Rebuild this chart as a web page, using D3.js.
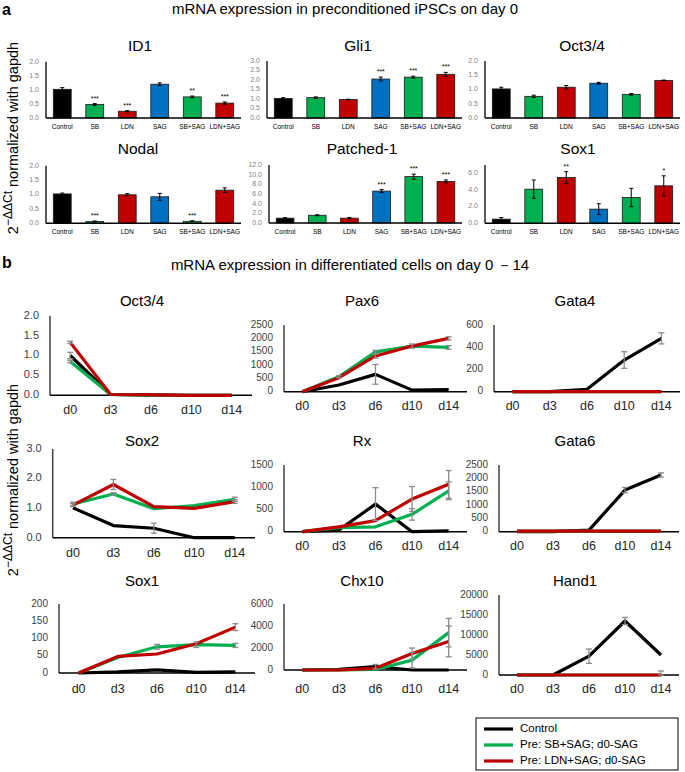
<!DOCTYPE html>
<html><head><meta charset="utf-8">
<script src="https://cdn.jsdelivr.net/npm/d3@7"></script>
<style>body{margin:0;background:#fff;} svg{display:block;font-family:"Liberation Sans",Arial,sans-serif;}</style>
</head><body><svg id="c" width="685" height="772"></svg>
<script>
// ---------- DATA: panel a (bar charts) ----------
const barCategories = ["Control","SB","LDN","SAG","SB+SAG","LDN+SAG"];
const barGroups = ["ctrl","green","red","blue","green","red"];

const id1Values = [1.02,0.48,0.24,1.20,0.75,0.53];
const id1Errors = [0.06,0.03,0.02,0.05,0.03,0.04];
const id1Stars  = ["","***","***","","**","***"];
const id1Ticks  = [0,0.5,1.0,1.5,2.0];

const gli1Values = [1.03,1.07,0.97,2.05,2.15,2.30];
const gli1Errors = [0.04,0.04,0.02,0.10,0.05,0.10];
const gli1Stars  = ["","","","***","***","***"];
const gli1Ticks  = [0,0.5,1.0,1.5,2.0,2.5,3.0];

const oct34aValues = [1.02,0.76,1.08,1.22,0.83,1.32];
const oct34aErrors = [0.06,0.04,0.06,0.03,0.03,0.01];
const oct34aStars  = ["","","","","",""];
const oct34aTicks  = [0,0.5,1.0,1.5,2.0];

const nodalValues = [1.02,0.06,0.99,0.92,0.07,1.15];
const nodalErrors = [0.03,0.02,0.04,0.12,0.02,0.08];
const nodalStars  = ["","***","","","***",""];
const nodalTicks  = [0,0.5,1.0,1.5,2.0];

const ptchValues = [1.0,1.6,1.0,6.6,9.6,8.6];
const ptchErrors = [0.1,0.1,0.15,0.3,0.5,0.3];
const ptchStars  = ["","","","***","***","***"];
const ptchTicks  = [0,2,4,6,8,10,12];

const sox1aValues = [0.5,4.1,5.5,1.7,3.1,4.5];
const sox1aErrors = [0.2,1.1,0.7,0.65,1.1,1.2];
const sox1aStars  = ["","","**","","","*"];
const sox1aTicks  = [0,2,4,6];

// ---------- DATA: panel b (line charts) ----------
const days = ["d0","d3","d6","d10","d14"];
const seriesNames = ["Control","Pre: SB+SAG; d0-SAG","Pre: LDN+SAG; d0-SAG"];

const oct34bCtrl  = [1.00,0.02,0.01,0.00,0.00], oct34bCtrlErr  = [0.08,0,0,0,0];
const oct34bGreen = [0.85,0.02,0.00,0.00,0.00], oct34bGreenErr = [0.03,0,0,0,0];
const oct34bRed   = [1.33,0.02,0.01,0.00,0.00], oct34bRedErr   = [0.03,0,0,0,0];
const oct34bTicks = [0,0.5,1.0,1.5,2.0];

const pax6Ctrl  = [0,250,650,60,80],        pax6CtrlErr  = [0,0,370,0,0];
const pax6Green = [0,560,1490,1710,1660],   pax6GreenErr = [0,40,60,80,70];
const pax6Red   = [0,525,1340,1710,2000],   pax6RedErr   = [0,0,80,0,60];
const pax6Ticks = [0,500,1000,1500,2000,2500];

const gata4Ctrl  = [0,0,21,285,480], gata4CtrlErr  = [0,0,0,75,50];
const gata4Green = [0,0,0,0,0],      gata4GreenErr = [0,0,0,0,0];
const gata4Red   = [0,0,0,0,0],      gata4RedErr   = [0,0,0,0,0];
const gata4Ticks = [0,200,400,600];

const sox2Ctrl  = [1.01,0.41,0.32,0,0],      sox2CtrlErr  = [0,0,0.17,0,0];
const sox2Green = [1.14,1.48,0.98,1.09,1.30], sox2GreenErr = [0.06,0.04,0,0,0.07];
const sox2Red   = [1.10,1.80,1.05,0.99,1.22], sox2RedErr   = [0.05,0.17,0,0,0.06];
const sox2Ticks = [0,1.0,2.0,3.0];

const rxCtrl  = [0,37,620,0,20],      rxCtrlErr  = [0,0,370,0,0];
const rxGreen = [0,90,110,390,920],   rxGreenErr = [0,0,0,130,200];
const rxRed   = [0,110,250,735,1065], rxRedErr   = [0,0,0,280,310];
const rxTicks = [0,500,1000,1500];

const gata6Ctrl  = [0,0,60,1560,2125], gata6CtrlErr  = [0,0,0,100,80];
const gata6Green = [20,20,20,20,20],   gata6GreenErr = [0,0,0,0,0];
const gata6Red   = [20,20,20,20,20],   gata6RedErr   = [0,0,0,0,0];
const gata6Ticks = [0,500,1000,1500,2000,2500];

const sox1bCtrl  = [0,3,9,2,3],     sox1bCtrlErr  = [0,0,0,0,0];
const sox1bGreen = [0,45,76,82,80], sox1bGreenErr = [0,0,7,8,6];
const sox1bRed   = [0,48,55,85,133],sox1bRedErr   = [0,0,0,0,10];
const sox1bTicks = [0,50,100,150,200];

const chx10Ctrl  = [0,50,300,0,0],       chx10CtrlErr  = [0,0,200,0,0];
const chx10Green = [0,0,50,900,3400],    chx10GreenErr = [0,0,0,700,1300];
const chx10Red   = [0,0,150,1500,2600],  chx10RedErr   = [0,0,0,500,1400];
const chx10Ticks = [0,2000,4000,6000];

const hand1Ctrl  = [0,0,4700,13500,5000], hand1CtrlErr  = [0,0,1800,900,0];
const hand1Green = [0,0,0,0,0],           hand1GreenErr = [0,0,0,0,0];
const hand1Red   = [0,0,0,0,0],           hand1RedErr   = [0,0,0,0,1000];
const hand1Ticks = [0,5000,10000,15000,20000];

// ---------- STYLE ----------
const colors = {ctrl:"#000000", green:"#00b050", red:"#c00000", blue:"#0070c0"};
const lineColors = [colors.ctrl, colors.green, colors.red];

const svg = d3.select("#c");

function barChart(L, title, values, errors, stars, ticks, dmax, fmt) {
  const g = svg.append("g");
  const x = d3.scaleBand().domain(barCategories).range([L.x0, L.x1]).paddingInner(0.45).paddingOuter(0.225);
  const y = d3.scaleLinear().domain([0, dmax]).range([L.y0, L.yTop]);
  g.append("text").attr("x", L.tx).attr("y", L.ty).attr("text-anchor","middle")
    .attr("dominant-baseline","middle").attr("font-size",15.5).attr("fill","#000").text(title);
  g.selectAll(".yt").data(ticks).join("text")
    .attr("x", L.x0 - 7).attr("y", d => y(d)).attr("text-anchor","end")
    .attr("dominant-baseline","middle").attr("font-size",7).attr("fill","#7f7f7f")
    .text(d => d3.format(fmt)(d));
  g.selectAll(".bar").data(values).join("rect")
    .attr("x", (d,i) => x(barCategories[i])).attr("width", x.bandwidth())
    .attr("y", d => y(d)).attr("height", d => y(0) - y(d))
    .attr("fill", (d,i) => colors[barGroups[i]]).attr("stroke","#1a1a1a").attr("stroke-width",0.8);
  const eb = g.selectAll(".eb").data(values).join("g");
  eb.append("line").attr("x1",(d,i)=>x(barCategories[i])+x.bandwidth()/2).attr("x2",(d,i)=>x(barCategories[i])+x.bandwidth()/2)
    .attr("y1",(d,i)=>y(d+errors[i])).attr("y2",(d,i)=>y(Math.max(0,d-errors[i]))).attr("stroke","#000").attr("stroke-width",1);
  [1,-1].forEach(s => {
    eb.append("line").attr("x1",(d,i)=>x(barCategories[i])+x.bandwidth()/2-2).attr("x2",(d,i)=>x(barCategories[i])+x.bandwidth()/2+2)
      .attr("y1",(d,i)=>y(Math.max(0,d+s*errors[i]))).attr("y2",(d,i)=>y(Math.max(0,d+s*errors[i]))).attr("stroke","#000").attr("stroke-width",1);
  });
  g.selectAll(".st").data(values).join("text")
    .attr("x",(d,i)=>x(barCategories[i])+x.bandwidth()/2).attr("y",(d,i)=>y(d+errors[i])-3)
    .attr("text-anchor","middle").attr("font-size",7).attr("fill","#000").text((d,i)=>stars[i]);
  g.append("line").attr("x1",L.x0).attr("x2",L.x0).attr("y1",y(dmax)).attr("y2",y(0)).attr("stroke","#000").attr("stroke-width",1.3);
  g.append("line").attr("x1",L.x0).attr("x2",L.x1).attr("y1",y(0)).attr("y2",y(0)).attr("stroke","#000").attr("stroke-width",1.5);
  g.selectAll(".xl").data(barCategories).join("text")
    .attr("x", d => x(d)+x.bandwidth()/2).attr("y", L.xly).attr("text-anchor","middle")
    .attr("dominant-baseline","middle").attr("font-size",6.5).attr("fill","#000").text(d => d);
}

function lineChart(L, title, series, errs, ticks, dmax, fmt, tickFont) {
  const g = svg.append("g");
  const x = d3.scalePoint().domain(days).range([L.x0, L.x1]).padding(0.5);
  const y = d3.scaleLinear().domain([0, dmax]).range([L.y0, L.yTop]);
  g.append("text").attr("x", L.tx).attr("y", L.ty).attr("text-anchor","middle")
    .attr("dominant-baseline","middle").attr("font-size",15).attr("fill","#000").text(title);
  g.selectAll(".yt").data(ticks).join("text")
    .attr("x", L.x0 - 11).attr("y", d => y(d)).attr("text-anchor","end")
    .attr("dominant-baseline","middle").attr("font-size",tickFont).attr("fill","#404040")
    .text(d => d3.format(fmt)(d));
  g.append("line").attr("x1",L.x0).attr("x2",L.x0).attr("y1",y(dmax)).attr("y2",y(0)).attr("stroke","#404040").attr("stroke-width",1.5);
  g.append("line").attr("x1",L.x0).attr("x2",L.x1).attr("y1",y(0)).attr("y2",y(0)).attr("stroke","#000").attr("stroke-width",1.5);
  g.selectAll(".xl").data(days).join("text")
    .attr("x", d => x(d)).attr("y", L.xly).attr("text-anchor","middle")
    .attr("dominant-baseline","middle").attr("font-size",12.5).attr("fill","#262626").text(d => d);
  const line = d3.line().x((d,i)=>x(days[i])).y(d=>y(d));
  series.forEach((s, k) => {
    g.append("path").datum(s).attr("d", line).attr("fill","none")
      .attr("stroke", lineColors[k]).attr("stroke-width",3.2).attr("stroke-linejoin","round");
  });
  series.forEach((s, k) => {
    s.forEach((v, i) => {
      const e = errs[k][i];
      if (!e) return;
      const cx = x(days[i]);
      const yt = y(v + e), yb = y(Math.max(0, v - e));
      g.append("line").attr("x1",cx).attr("x2",cx).attr("y1",yt).attr("y2",yb).attr("stroke","#8c8c8c").attr("stroke-width",1.3);
      [yt, yb].forEach(yy => g.append("line").attr("x1",cx-3).attr("x2",cx+3).attr("y1",yy).attr("y2",yy).attr("stroke","#8c8c8c").attr("stroke-width",1.3));
    });
  });
}

// ---------- headers ----------
svg.append("text").attr("x",2).attr("y",15).attr("font-size",16).attr("font-weight","bold").text("a");
svg.append("text").attr("x",345).attr("y",10).attr("text-anchor","middle").attr("dominant-baseline","middle").attr("font-size",15).text("mRNA expression in preconditioned iPSCs on day 0");
svg.append("text").attr("x",2).attr("y",268).attr("font-size",16).attr("font-weight","bold").text("b");
svg.append("text").attr("x",350).attr("y",266).attr("text-anchor","middle").attr("dominant-baseline","middle").attr("font-size",15).text("mRNA expression in differentiated cells on day 0 －14");

function yLabel(cx, cy) {
  const t = svg.append("text").attr("transform",`translate(${cx},${cy}) rotate(-90)`).attr("text-anchor","middle").attr("font-size",14.5).attr("fill","#000");
  t.append("tspan").text("2");
  t.append("tspan").attr("dy",-6).attr("font-size",12).text("−ΔΔCt");
  t.append("tspan").attr("dy",6).text(" normalized with gapdh");
}
yLabel(18, 138);
yLabel(18, 480);

// ---------- panel a ----------
barChart({x0:46,x1:241,yTop:61.7,y0:118,tx:140,ty:47,xly:127}, "ID1", id1Values, id1Errors, id1Stars, id1Ticks, 2, ".1f");
barChart({x0:267,x1:462,yTop:61,y0:118,tx:358,ty:47,xly:127}, "Gli1", gli1Values, gli1Errors, gli1Stars, gli1Ticks, 3, ".1f");
barChart({x0:485,x1:680,yTop:61,y0:118,tx:582,ty:47,xly:127}, "Oct3/4", oct34aValues, oct34aErrors, oct34aStars, oct34aTicks, 2, ".1f");
barChart({x0:46,x1:241,yTop:165.7,y0:223.3,tx:138,ty:150,xly:232}, "Nodal", nodalValues, nodalErrors, nodalStars, nodalTicks, 2, ".1f");
barChart({x0:269,x1:462,yTop:165,y0:223,tx:362,ty:150,xly:232}, "Patched-1", ptchValues, ptchErrors, ptchStars, ptchTicks, 12, ".1f");
barChart({x0:485,x1:680,yTop:165,y0:223.3,tx:578,ty:150,xly:232}, "Sox1", sox1aValues, sox1aErrors, sox1aStars, sox1aTicks, 7, ".1f");

// ---------- panel b ----------
lineChart({x0:50,x1:252,yTop:315.7,y0:395.3,tx:142,ty:302,xly:411}, "Oct3/4",
  [oct34bCtrl,oct34bGreen,oct34bRed],[oct34bCtrlErr,oct34bGreenErr,oct34bRedErr], oct34bTicks, 2, ".1f", 11);
lineChart({x0:284,x1:467,yTop:325,y0:391.7,tx:362,ty:302,xly:407}, "Pax6",
  [pax6Ctrl,pax6Green,pax6Red],[pax6CtrlErr,pax6GreenErr,pax6RedErr], pax6Ticks, 2500, "d", 10);
lineChart({x0:494,x1:680,yTop:325,y0:391.7,tx:575,ty:302,xly:407}, "Gata4",
  [gata4Ctrl,gata4Green,gata4Red],[gata4CtrlErr,gata4GreenErr,gata4RedErr], gata4Ticks, 600, "d", 10);
lineChart({x0:52.7,x1:255,yTop:449,y0:537.7,tx:142,ty:442,xly:554}, "Sox2",
  [sox2Ctrl,sox2Green,sox2Red],[sox2CtrlErr,sox2GreenErr,sox2RedErr], sox2Ticks, 3, ".1f", 11);
lineChart({x0:284,x1:467,yTop:465,y0:531.7,tx:362,ty:442,xly:547}, "Rx",
  [rxCtrl,rxGreen,rxRed],[rxCtrlErr,rxGreenErr,rxRedErr], rxTicks, 1500, "d", 10);
lineChart({x0:499,x1:679,yTop:465,y0:531.7,tx:575,ty:442,xly:547}, "Gata6",
  [gata6Ctrl,gata6Green,gata6Red],[gata6CtrlErr,gata6GreenErr,gata6RedErr], gata6Ticks, 2500, "d", 10);
lineChart({x0:59,x1:255,yTop:604,y0:673,tx:142,ty:582,xly:690}, "Sox1",
  [sox1bCtrl,sox1bGreen,sox1bRed],[sox1bCtrlErr,sox1bGreenErr,sox1bRedErr], sox1bTicks, 200, "d", 10);
lineChart({x0:284,x1:467,yTop:604,y0:670,tx:362,ty:582,xly:690}, "Chx10",
  [chx10Ctrl,chx10Green,chx10Red],[chx10CtrlErr,chx10GreenErr,chx10RedErr], chx10Ticks, 6000, "d", 10);
lineChart({x0:499,x1:679,yTop:595,y0:675,tx:575,ty:582,xly:690}, "Hand1",
  [hand1Ctrl,hand1Green,hand1Red],[hand1CtrlErr,hand1GreenErr,hand1RedErr], hand1Ticks, 20000, "d", 10);

// ---------- legend ----------
const lg = svg.append("g");
lg.append("rect").attr("x",476).attr("y",718).attr("width",202).attr("height",52).attr("fill","#fff").attr("stroke","#000").attr("stroke-width",1);
seriesNames.forEach((n,i) => {
  const yy = 729 + i*16;
  lg.append("line").attr("x1",484).attr("x2",513).attr("y1",yy).attr("y2",yy).attr("stroke",lineColors[i]).attr("stroke-width",3.2);
  lg.append("text").attr("x",520).attr("y",yy).attr("dominant-baseline","middle").attr("font-size",11.5).attr("fill","#000").text(n);
});
</script></body></html>
